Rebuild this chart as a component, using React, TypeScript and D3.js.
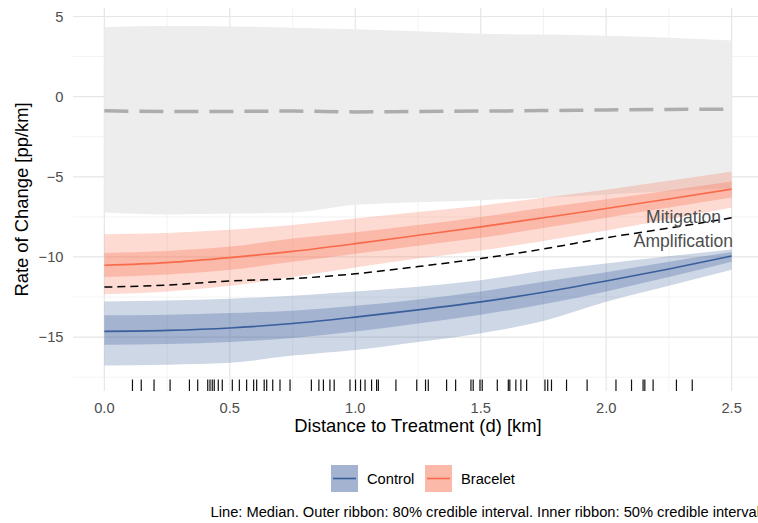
import React, { useEffect, useRef } from "react";
import * as d3 from "d3";

// distance grid (km) at which the curves were read
const dist = [0, 0.25, 0.5, 0.75, 1.0, 1.25, 1.5, 1.75, 2.0, 2.25, 2.5];

// Control
const controlMedian = [-14.64, -14.58, -14.43, -14.15, -13.75, -13.3, -12.8, -12.2, -11.5, -10.75, -9.94];
const controlHi80 = [-12.77, -12.72, -12.6, -12.42, -12.15, -11.85, -11.45, -10.85, -10.4, -9.95, -9.54];
const controlLo80 = [-16.77, -16.72, -16.6, -16.15, -15.8, -15.3, -14.75, -14.0, -12.8, -11.8, -10.79];
const controlHi50 = [-13.64, -13.6, -13.5, -13.35, -13.05, -12.65, -12.15, -11.55, -10.95, -10.3, -9.69];
const controlLo50 = [-15.48, -15.43, -15.3, -15.05, -14.65, -14.15, -13.6, -12.95, -12.15, -11.25, -10.3];

// Bracelet
const braceletMedian = [-10.52, -10.35, -10.04, -9.65, -9.17, -8.65, -8.12, -7.55, -6.98, -6.38, -5.77];
const braceletHi80 = [-8.58, -8.5, -8.3, -8.0, -7.6, -7.2, -6.8, -6.3, -5.8, -5.25, -4.67];
const braceletLo80 = [-12.33, -12.15, -11.8, -11.25, -10.65, -10.1, -9.6, -9.0, -8.35, -7.65, -6.92];
const braceletHi50 = [-9.75, -9.62, -9.35, -8.85, -8.45, -8.0, -7.5, -6.93, -6.4, -5.85, -5.29];
const braceletLo50 = [-11.25, -11.1, -10.8, -10.3, -9.8, -9.3, -8.8, -8.2, -7.55, -6.92, -6.29];

// threshold between mitigation and amplification
const threshold = [-11.88, -11.75, -11.5, -11.35, -11.05, -10.6, -10.1, -9.5, -8.8, -8.2, -7.56];

// grey reference band
const nullMedian = [-0.88, -0.93, -0.92, -0.9, -0.95, -0.92, -0.9, -0.87, -0.83, -0.8, -0.78];
const nullHi = [4.33, 4.4, 4.38, 4.3, 4.2, 4.08, 3.92, 3.87, 3.8, 3.68, 3.5];
const nullLo = [-7.23, -7.35, -7.29, -7.23, -6.75, -6.58, -6.46, -6.3, -6.1, -5.9, -5.7];

// observed distances (rug)
const rugDist = [
  0.112, 0.147, 0.198, 0.262, 0.339, 0.372, 0.412, 0.421, 0.43, 0.438, 0.454, 0.47,
  0.51, 0.538, 0.567, 0.595, 0.607, 0.637, 0.647, 0.671, 0.7, 0.74, 0.825, 0.855,
  0.873, 0.899, 0.916, 0.979, 1.001, 1.021, 1.039, 1.065, 1.085, 1.092, 1.162, 1.245,
  1.28, 1.291, 1.364, 1.4, 1.461, 1.47, 1.497, 1.506, 1.566, 1.61, 1.616, 1.64, 1.66,
  1.683, 1.756, 1.767, 1.782, 1.842, 1.924, 2.039, 2.101, 2.147, 2.154, 2.187, 2.28, 2.343,
];

const xTicks = [0, 0.5, 1.0, 1.5, 2.0, 2.5];
const xMinor = [0.25, 0.75, 1.25, 1.75, 2.25];
const yTicks = [5, 0, -5, -10, -15];
const yMinor = [2.5, -2.5, -7.5, -12.5, -17.5];

const BLUE = "#3a5e9c";
const RED = "#f96a4a";
const FONT = "'Liberation Sans', Arial, sans-serif";

export default function App() {
  const ref = useRef<SVGSVGElement>(null);

  useEffect(() => {
    if (!ref.current) return;
    const svg = d3.select(ref.current);
    svg.selectAll("*").remove();

    const x = d3.scaleLinear().domain([-0.125, 2.625]).range([73, 763]);
    const y = d3.scaleLinear().domain([-18.36, 5.53]).range([391, 8]);

    const panel = svg.append("g");

    // grid
    panel.selectAll(".ymin").data(yMinor).enter().append("line")
      .attr("x1", 73).attr("x2", 763)
      .attr("y1", (d) => y(d)).attr("y2", (d) => y(d))
      .attr("stroke", "#f0f0f0").attr("stroke-width", 0.8);
    panel.selectAll(".xmin").data(xMinor).enter().append("line")
      .attr("y1", 8).attr("y2", 391)
      .attr("x1", (d) => x(d)).attr("x2", (d) => x(d))
      .attr("stroke", "#f0f0f0").attr("stroke-width", 0.8);
    panel.selectAll(".ymaj").data(yTicks).enter().append("line")
      .attr("x1", 73).attr("x2", 763)
      .attr("y1", (d) => y(d)).attr("y2", (d) => y(d))
      .attr("stroke", "#e6e6e6").attr("stroke-width", 1.2);
    panel.selectAll(".xmaj").data(xTicks).enter().append("line")
      .attr("y1", 8).attr("y2", 391)
      .attr("x1", (d) => x(d)).attr("x2", (d) => x(d))
      .attr("stroke", "#e6e6e6").attr("stroke-width", 1.2);

    const idx = d3.range(dist.length);
    const band = (lo: number[], hi: number[]) =>
      d3.area<number>()
        .x((i) => x(dist[i]))
        .y0((i) => y(lo[i]))
        .y1((i) => y(hi[i]))
        .curve(d3.curveMonotoneX)(idx);
    const line = (v: number[]) =>
      d3.line<number>()
        .x((i) => x(dist[i]))
        .y((i) => y(v[i]))
        .curve(d3.curveMonotoneX)(idx);

    // grey reference band
    panel.append("path").attr("d", band(nullLo, nullHi)).attr("fill", "#ededed");
    panel.append("path").attr("d", line(nullMedian))
      .attr("fill", "none").attr("stroke", "#adadad")
      .attr("stroke-width", 3.5).attr("stroke-dasharray", "24,11");

    const groups = [
      { color: RED, lo80: braceletLo80, hi80: braceletHi80, lo50: braceletLo50, hi50: braceletHi50, med: braceletMedian },
      { color: BLUE, lo80: controlLo80, hi80: controlHi80, lo50: controlLo50, hi50: controlHi50, med: controlMedian },
    ];
    groups.forEach((g) => {
      panel.append("path").attr("d", band(g.lo80, g.hi80))
        .attr("fill", g.color).attr("fill-opacity", 0.25);
      panel.append("path").attr("d", band(g.lo50, g.hi50))
        .attr("fill", g.color).attr("fill-opacity", 0.29);
    });
    groups.forEach((g) => {
      panel.append("path").attr("d", line(g.med))
        .attr("fill", "none").attr("stroke", g.color).attr("stroke-width", 1.6);
    });

    // threshold line
    panel.append("path").attr("d", line(threshold))
      .attr("fill", "none").attr("stroke", "#000")
      .attr("stroke-width", 1.5).attr("stroke-dasharray", "8,5");

    // annotations
    panel.append("text").attr("x", 721).attr("y", 223)
      .attr("text-anchor", "end").attr("font-size", 17.5)
      .attr("font-family", FONT).attr("fill", "#4d4d4d").text("Mitigation");
    panel.append("text").attr("x", 733).attr("y", 247)
      .attr("text-anchor", "end").attr("font-size", 17.5)
      .attr("font-family", FONT).attr("fill", "#4d4d4d").text("Amplification");

    // rug
    panel.selectAll(".rug").data(rugDist).enter().append("line")
      .attr("x1", (d) => x(d)).attr("x2", (d) => x(d))
      .attr("y1", 379.5).attr("y2", 391)
      .attr("stroke", "#111").attr("stroke-width", 1.2);

    // axes text
    svg.selectAll(".yt").data(yTicks).enter().append("text")
      .attr("x", 63.5).attr("y", (d) => y(d) + 5.2)
      .attr("text-anchor", "end").attr("font-size", 14.7)
      .attr("font-family", FONT).attr("fill", "#4d4d4d")
      .text((d) => (d < 0 ? "\u2212" + Math.abs(d) : String(d)));
    svg.selectAll(".xt").data(xTicks).enter().append("text")
      .attr("x", (d) => x(d)).attr("y", 412.5)
      .attr("text-anchor", "middle").attr("font-size", 14.7)
      .attr("font-family", FONT).attr("fill", "#4d4d4d")
      .text((d) => d.toFixed(1));

    svg.append("text").attr("x", 418).attr("y", 432)
      .attr("text-anchor", "middle").attr("font-size", 18.4)
      .attr("font-family", FONT).attr("fill", "#000")
      .text("Distance to Treatment (d) [km]");
    svg.append("text")
      .attr("transform", `translate(28,${(8 + 391) / 2}) rotate(-90)`)
      .attr("text-anchor", "middle").attr("font-size", 18.4)
      .attr("font-family", FONT).attr("fill", "#000")
      .text("Rate of Change [pp/km]");

    // legend
    const legendItems = [
      { label: "Control", color: BLUE, x: 331 },
      { label: "Bracelet", color: RED, x: 425 },
    ];
    legendItems.forEach((it) => {
      const g = svg.append("g").attr("transform", `translate(${it.x},465)`);
      g.append("rect").attr("width", 27).attr("height", 27)
        .attr("fill", it.color).attr("fill-opacity", 0.25);
      g.append("rect").attr("width", 27).attr("height", 27)
        .attr("fill", it.color).attr("fill-opacity", 0.29);
      g.append("line").attr("x1", 2).attr("x2", 25)
        .attr("y1", 13.5).attr("y2", 13.5)
        .attr("stroke", it.color).attr("stroke-width", 1.6);
      g.append("text").attr("x", 36).attr("y", 18.8)
        .attr("font-size", 14.7).attr("font-family", FONT).attr("fill", "#000")
        .text(it.label);
    });

    svg.append("text").attr("x", 760).attr("y", 517)
      .attr("text-anchor", "end").attr("font-size", 14.7)
      .attr("font-family", FONT).attr("fill", "#000")
      .text("Line: Median. Outer ribbon: 80% credible interval. Inner ribbon: 50% credible interval");
  }, []);

  return (
    <svg
      ref={ref}
      width={758}
      height={523}
      style={{ position: "absolute", left: 0, top: 0, background: "#fff" }}
    />
  );
}
